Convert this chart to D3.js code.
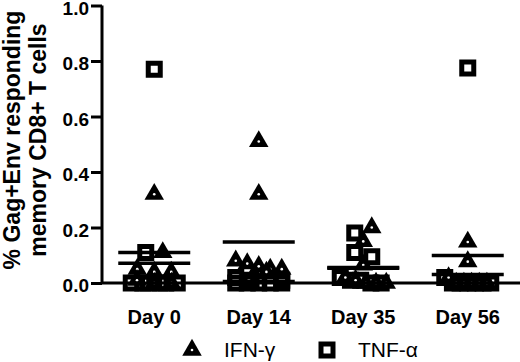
<!DOCTYPE html>
<html>
<head>
<meta charset="utf-8">
<script src="https://cdn.jsdelivr.net/npm/d3@7"></script>
<style>
  html, body { margin: 0; padding: 0; background: #fff; }
  svg { display: block; font-family: "Liberation Sans", Arial, sans-serif; }
</style>
</head>
<body>
<svg id="chart" width="520" height="362"></svg>
<script>
// ---- data ----
const days = ["Day 0", "Day 14", "Day 35", "Day 56"];
const ifnGamma = [
  [0.32, 0.11, 0.05, 0.04, 0.04, 0.01, 0.00, 0.00],
  [0.51, 0.32, 0.08, 0.07, 0.05, 0.05, 0.04, 0.06],
  [0.20, 0.15, 0.065, 0.02, 0.01, 0.00, 0.00, 0.00],
  [0.148, 0.077, 0.02, 0.00, 0.00, 0.00, 0.00, 0.00]
];
const tnfAlpha = [
  [0.77, 0.11, 0.00, 0.00, 0.00, 0.00, 0.00, 0.00],
  [0.02, 0.01, 0.01, 0.00, 0.00, 0.00, 0.00, 0.00],
  [0.18, 0.11, 0.095, 0.02, 0.01, 0.01, 0.00, 0.00],
  [0.775, 0.02, 0.00, 0.00, 0.00, 0.00, 0.00, 0.00]
];
const yTicks = [0, 0.2, 0.4, 0.6, 0.8, 1.0];
const seriesNames = ["IFN-\u03b3", "TNF-\u03b1"];
const titleLines = ["% Gag+Env responding", "memory CD8+ T cells"];

// ---- layout ----
const svg = d3.select("#chart");
const x = d3.scaleBand().domain(days).range([102, 520]);
const y = d3.scaleLinear().domain([0, 1]).range([283, 5.5]);

const triSize = 165, sqSize = 144;
const triPath = d3.symbol().type(d3.symbolTriangle).size(triSize)();
const sqPath = d3.symbol().type(d3.symbolSquare).size(sqSize)();

// scatter placement: group points with similar y into centred rows,
// interleaving the two series proportionally inside a row
function placePoints(dayIdx) {
  const pts = [];
  tnfAlpha[dayIdx].forEach(v => pts.push({s: 1, v}));
  ifnGamma[dayIdx].forEach(v => pts.push({s: 0, v}));
  pts.forEach(p => p.py = y(p.v));
  pts.sort((a, b) => a.py - b.py || b.s - a.s);
  const rows = [];
  pts.forEach(p => {
    const r = rows[rows.length - 1];
    if (r && Math.abs(p.py - r[0].py) < 10) r.push(p); else rows.push([p]);
  });
  const cx = x(days[dayIdx]) + x.bandwidth() / 2;
  rows.forEach(r => {
    const sq = r.filter(p => p.s === 1), tr = r.filter(p => p.s === 0);
    sq.forEach((p, i) => p.k = (i + 0.5) / sq.length);
    tr.forEach((p, i) => p.k = (i + 0.5) / tr.length);
    r.sort((a, b) => a.k - b.k || b.s - a.s);
    const n = r.length;
    const sp = n > 1 ? Math.min(17, 46 / (n - 1)) : 0;
    r.forEach((p, i) => { p.px = cx + (i - (n - 1) / 2) * sp; });
  });
  return pts;
}

const gWhite = svg.append("g"), gSq = svg.append("g"), gTri = svg.append("g");
days.forEach((d, i) => {
  const pts = placePoints(i);
  const sqs = pts.filter(p => p.s === 1);
  gSq.selectAll(null).data(sqs).enter().append("path")
    .attr("d", sqPath)
    .attr("transform", p => `translate(${p.px},${p.py})`)
    .attr("fill", "none").attr("stroke", "#000").attr("stroke-width", 5);
  const tri = gTri.selectAll(null).data(pts.filter(p => p.s === 0)).enter().append("g")
    .attr("transform", p => `translate(${p.px},${p.py})`);
  tri.append("path").attr("d", triPath).attr("fill", "#000");
  tri.append("circle").attr("r", 1.3).attr("fill", "#fff");
});

// mean lines
const meanData = [];
days.forEach((d, i) => {
  meanData.push({d, m: d3.mean(ifnGamma[i])});
  meanData.push({d, m: d3.mean(tnfAlpha[i])});
});
svg.append("g").selectAll("line").data(meanData).enter().append("line")
  .attr("x1", m => x(m.d) + x.bandwidth() / 2 - 36)
  .attr("x2", m => x(m.d) + x.bandwidth() / 2 + 36)
  .attr("y1", m => y(m.m)).attr("y2", m => y(m.m))
  .attr("stroke", "#000").attr("stroke-width", 3.5);

// y axis
const yAxis = d3.axisLeft(y).tickValues(yTicks).tickFormat(d3.format(".1f")).tickSize(11).tickPadding(2);
const gy = svg.append("g").attr("transform", "translate(102,0)").call(yAxis);
gy.select(".domain").attr("stroke", "#000").attr("stroke-width", 3).attr("d", `M0,${y(1)}V${y(0)}`);
gy.selectAll(".tick line").attr("stroke", "#000").attr("stroke-width", 3);
gy.selectAll(".tick text").attr("fill", "#000").style("font-size", "19px").style("font-weight", "bold")
  .style("font-family", "'Liberation Sans', Arial, sans-serif").attr("dy", "0.47em");

// x axis
const xAxis = d3.axisBottom(x).tickSize(0).tickPadding(0);
const gx = svg.append("g").attr("transform", `translate(0,${y(0)})`).call(xAxis);
gx.select(".domain").attr("stroke", "#000").attr("stroke-width", 3).attr("d", "M102,0H520");
gx.selectAll(".tick text").attr("fill", "#000").attr("y", 41).attr("dy", 0)
  .style("font-size", "20px").style("font-weight", "bold")
  .style("font-family", "'Liberation Sans', Arial, sans-serif");

// y title
const title = svg.append("text")
  .attr("transform", "translate(0,140) rotate(-90)")
  .attr("text-anchor", "middle")
  .style("font-size", "23px").style("font-weight", "bold").attr("fill", "#000");
title.selectAll("tspan").data(titleLines).enter().append("tspan")
  .attr("x", 0).attr("y", (d, i) => 20 + i * 26).text(d => d);

// legend
const legend = svg.append("g");
const legX = [192, 327];
seriesNames.forEach((name, i) => {
  const g = legend.append("g").attr("transform", `translate(${legX[i]},350)`);
  if (i === 0) {
    g.append("path").attr("d", triPath).attr("fill", "#000");
    g.append("circle").attr("r", 1.3).attr("fill", "#fff");
  } else {
    g.append("path").attr("d", sqPath).attr("fill", "#fff").attr("stroke", "#000").attr("stroke-width", 5);
  }
  g.append("text").attr("x", i === 0 ? 32 : 31).attr("y", 7)
    .style("font-size", "21px").attr("fill", "#000").text(name);
});
</script>
</body>
</html>
